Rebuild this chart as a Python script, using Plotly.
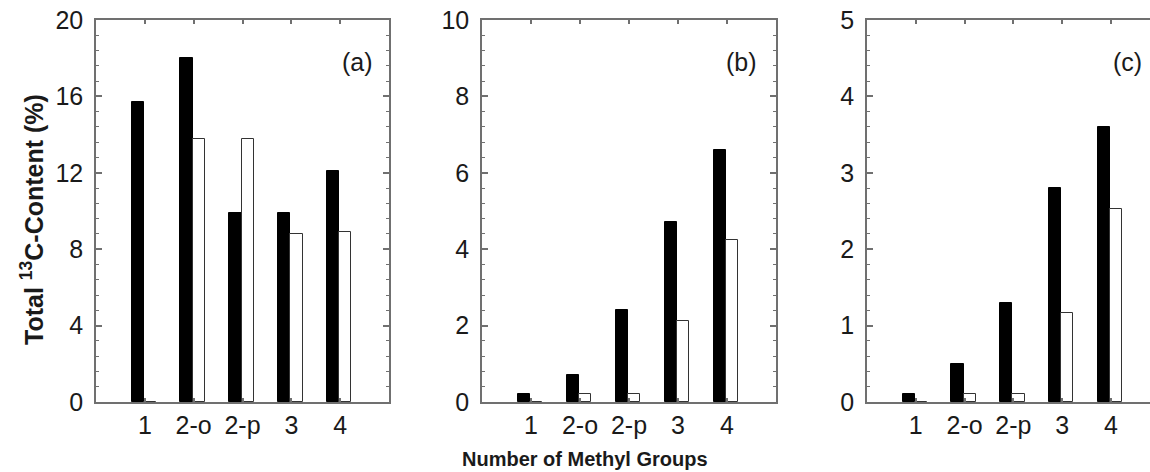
import plotly.graph_objects as go

categories = ["1", "2-o", "2-p", "3", "4"]

a_black = [15.7, 18.0, 9.9, 9.9, 12.1]
a_white = [0, 13.75, 13.75, 8.8, 8.9]
b_black = [0.2, 0.7, 2.4, 4.7, 6.6]
b_white = [0, 0.2, 0.2, 2.13, 4.25]
c_black = [0.1, 0.5, 1.3, 2.8, 3.6]
c_white = [0, 0.1, 0.1, 1.17, 2.52]

panel_labels = ["(a)", "(b)", "(c)"]
y_max = [20, 10, 5]
y_dtick = [4, 2, 1]
y_minor = [0.8, 0.4, 0.2]

W, H = 1150, 472
FONT = "Liberation Sans, Arial, sans-serif"
AX = "#707070"
TXT = "#1a1a1a"

fig = go.Figure()

panels = [(a_black, a_white), (b_black, b_white), (c_black, c_white)]
xdom_px = [(96, 389), (482, 776), (867, 1150)]
xrng = [[-1, 5], [-1, 5], [-1, 4.8]]
ydom = [1 - 402 / H, 1 - 20 / H]

for i, (blk, wht) in enumerate(panels):
    n = "" if i == 0 else str(i + 1)
    fig.add_trace(go.Bar(
        x=categories, y=blk, xaxis="x" + n, yaxis="y" + n,
        marker=dict(color="black", line=dict(color="black", width=1)),
        offset=-0.27, width=0.25, showlegend=False))
    fig.add_trace(go.Bar(
        x=categories, y=wht, xaxis="x" + n, yaxis="y" + n,
        marker=dict(color="white", line=dict(color="#333333", width=1)),
        offset=-0.02, width=0.25, showlegend=False))
    d0, d1 = xdom_px[i]
    fig.layout["xaxis" + n] = dict(
        domain=[d0 / W, d1 / W], range=xrng[i], type="category",
        categoryorder="array", categoryarray=categories,
        showline=True, linecolor=AX, linewidth=1.5,
        mirror="ticks",
        ticks="inside", ticklen=4, tickcolor=AX, tickwidth=1.5,
        tickfont=dict(family=FONT, size=25, color=TXT),
        ticklabelstandoff=0, showgrid=False, zeroline=False,
        automargin=False, anchor="y" + n, fixedrange=True)
    fig.layout["yaxis" + n] = dict(
        domain=ydom, range=[0, y_max[i]], dtick=y_dtick[i], tick0=0,
        showline=True, linecolor=AX, linewidth=1.5,
        mirror="ticks" if i < 2 else False,
        ticks="inside", ticklen=6, tickcolor=AX, tickwidth=1.5,
        minor=dict(dtick=y_minor[i], tick0=0, ticks="inside", ticklen=3,
                   tickcolor=AX, tickwidth=1.2, showgrid=False),
        tickfont=dict(family=FONT, size=25, color=TXT),
        ticklabelstandoff=6, showgrid=False, zeroline=False,
        automargin=False, anchor="x" + n, fixedrange=True)

label_x = [357, 741, 1127]
for i, t in enumerate(panel_labels):
    fig.add_annotation(x=label_x[i] / W, y=1 - 62 / H, xref="paper", yref="paper",
                       text=t, showarrow=False, xanchor="center", yanchor="middle",
                       font=dict(family=FONT, size=25, color=TXT))

fig.add_annotation(x=32 / W, y=1 - 220 / H, xref="paper", yref="paper",
                   text="<b>Total <sup>13</sup>C-Content (%)</b>", textangle=-90,
                   showarrow=False, xanchor="center", yanchor="middle",
                   font=dict(family=FONT, size=25, color=TXT))
fig.add_annotation(x=585 / W, y=1 - 459 / H, xref="paper", yref="paper",
                   text="<b>Number of Methyl Groups</b>",
                   showarrow=False, xanchor="center", yanchor="middle",
                   font=dict(family=FONT, size=20, color=TXT))

fig.update_layout(
    width=W, height=H, margin=dict(l=0, r=0, t=0, b=0, autoexpand=False),
    paper_bgcolor="white", plot_bgcolor="white",
    barmode="overlay", bargap=0, showlegend=False)

fig.write_html("out.html", config=dict(displayModeBar=False))
